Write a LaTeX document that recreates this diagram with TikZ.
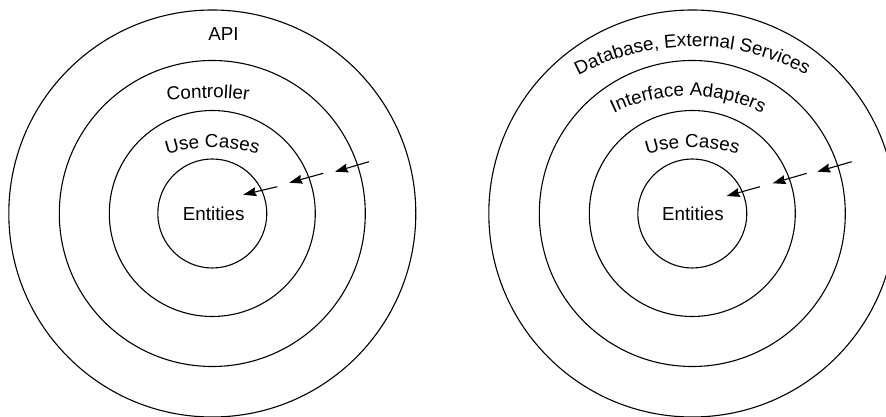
\documentclass[tikz,border=0pt]{standalone}
\usepackage{fontspec}
\setmainfont{Liberation Sans}
\usetikzlibrary{arrows.meta,decorations.text,calc}

\newcommand\ringfont{\fontsize{18.8}{22}\selectfont}
% curved caption: #1,#2 = top of baseline arc, #3 = radius, #4 = half angle, #5 = text
\newcommand\arctext[5]{%
  \path[decorate, decoration={text along path, text align=center,
        text={|\ringfont|#5}}]
    ($(#1,#2)+(0,-#3)+(90+#4:#3)$) arc[start angle=90+#4, end angle=90-#4, radius=#3];}

\begin{document}
\begin{tikzpicture}[x=1pt,y=1pt,
  ring/.style={circle, draw, line width=1.1pt, inner sep=0pt, minimum size=#1},
  caption/.style={font=\ringfont, inner sep=0pt, anchor=base},
  dep/.style={line width=1.1pt, -{Stealth[length=13pt,width=9pt,inset=1.5pt]}}]
\useasboundingbox (0,0) rectangle (886,417);
\clip (0,0) rectangle (886,417);

% ---- left: API / Controller / Use Cases / Entities
\node[ring=407pt] (l4) at (212.3,203.5) {};
\node[ring=306pt] (l3) at (212.3,203.5) {};
\node[ring=206pt] (l2) at (212.3,203.5) {};
\node[ring=109pt] (l1) at (212.3,203.5) {};

\node[caption] (lapi) at (223.5,376.3) {API};
\arctext{208}{319}{300}{20}{Controller}
\arctext{212.3}{269.5}{150}{30}{Use Cases}
\node[caption] (lent) at (213.7,196) {Entities};

\coordinate (la3s) at (369,255.3);   \coordinate (la3e) at (335,245.3);
\coordinate (la2s) at (323.3,243.7); \coordinate (la2e) at (289.3,234.3);
\coordinate (la1s) at (277.3,230.3); \coordinate (la1e) at (243.3,222.3);
\draw[dep] (la3s) -- (la3e);
\draw[dep] (la2s) -- (la2e);
\draw[dep] (la1s) -- (la1e);

% ---- right: Database, External Services / Interface Adapters / Use Cases / Entities
\node[ring=407pt] (r4) at (692.3,203.5) {};
\node[ring=306pt] (r3) at (692.3,203.5) {};
\node[ring=206pt] (r2) at (692.3,203.5) {};
\node[ring=109pt] (r1) at (692.3,203.5) {};

\arctext{692.3}{370.5}{240}{40}{Database, External Services}
\arctext{688}{321}{170}{40}{Interface Adapters}
\arctext{692.3}{269.5}{150}{30}{Use Cases}
\node[caption] (rent) at (693,196) {Entities};

\coordinate (ra3s) at (851.7,255.3); \coordinate (ra3e) at (817.3,245.3);
\coordinate (ra2s) at (806.7,243.7); \coordinate (ra2e) at (772.7,233.7);
\coordinate (ra1s) at (760,230.3);   \coordinate (ra1e) at (726.7,221);
\draw[dep] (ra3s) -- (ra3e);
\draw[dep] (ra2s) -- (ra2e);
\draw[dep] (ra1s) -- (ra1e);
\end{tikzpicture}
\end{document}
